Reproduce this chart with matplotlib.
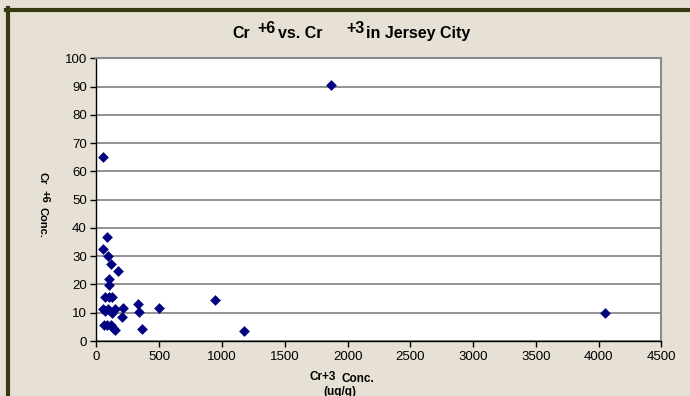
import matplotlib
matplotlib.use("Agg")
import matplotlib.pyplot as plt
from matplotlib.lines import Line2D

# Cr+3 (ug/g) vs Cr+6 concentration
cr3 = [1870, 4050, 1173, 944, 500, 364, 340, 332, 215, 202, 168,
       53, 53, 80, 93, 114, 101, 98, 69, 100, 124,
       48, 69, 93, 125, 146, 58, 80, 112, 128, 149]
cr6 = [90.5, 9.8, 3.4, 14.4, 11.6, 4.3, 10.4, 13.1, 11.8, 8.5, 24.8,
       65.0, 32.4, 36.9, 30.2, 27.2, 21.9, 19.7, 15.7, 15.7, 15.7,
       11.4, 10.6, 11.4, 9.8, 11.4, 5.7, 5.5, 5.5, 4.7, 3.8]
xticks = list(range(0, 5000, 500))
yticks = list(range(0, 110, 10))

W, H = 690, 396
bg = '#e7e1d5'
fam = 'Liberation Sans'
fig = plt.figure(figsize=(W / 100, H / 100), dpi=100, facecolor=bg)

def px(x, y):
    return x / W, 1 - y / H

# dark frame on the left and top
fig.add_artist(Line2D([7.5 / W, 7.5 / W], [0, 1 - 8 / H], color='#3a3a12', lw=3))
fig.add_artist(Line2D([6 / W, 1], [1 - 9.5 / H, 1 - 9.5 / H], color='#3a3a12', lw=3))

ax = fig.add_axes([96.5 / W, 1 - 341 / H, 565 / W, 282.6 / H])
ax.set_facecolor('white')
ax.scatter(cr3, cr6, marker='D', s=30, color='#000080', zorder=3, linewidths=0)
ax.set_xlim(0, 4500)
ax.set_ylim(0, 100)
ax.set_xticks(xticks)
ax.set_yticks(yticks)
ax.grid(axis='y', color='#7f7f7f', lw=1.2)
ax.set_axisbelow(True)
for s in ['top', 'right']:
    ax.spines[s].set_color('#8a8a8a')
    ax.spines[s].set_linewidth(1.5)
for s in ['left', 'bottom']:
    ax.spines[s].set_color('black')
    ax.spines[s].set_linewidth(1)
ax.tick_params(direction='out', length=4, width=1, labelsize=9.5, pad=3)
for lab in ax.get_xticklabels() + ax.get_yticklabels():
    lab.set_fontfamily(fam)

# title with raised charge signs
ts = 11.5
fig.text(*px(232, 38), 'Cr', fontsize=ts, weight='bold', family=fam)
fig.text(*px(257, 33), '+6', fontsize=ts, weight='bold', family=fam)
fig.text(*px(278, 38), 'vs. Cr', fontsize=ts, weight='bold', family=fam)
fig.text(*px(346, 33), '+3', fontsize=ts, weight='bold', family=fam)
fig.text(*px(366, 38), 'in Jersey City', fontsize=ts, weight='bold', family=fam)

# y label, rotated (reads top to bottom)
ys = 8
fig.text(*px(42, 172), 'Cr', rotation=-90, fontsize=ys, weight='bold',
         family=fam, ha='center', va='top')
fig.text(*px(44, 190), '+6', rotation=-90, fontsize=ys, weight='bold',
         family=fam, ha='center', va='top')
fig.text(*px(42, 207), 'Conc.', rotation=-90, fontsize=ys, weight='bold',
         family=fam, ha='center', va='top')

# x label
fig.text(*px(310, 380), 'Cr+3', fontsize=8.5, weight='bold', family=fam)
fig.text(*px(342, 382.5), 'Conc.', fontsize=8.5, weight='bold', family=fam)
fig.text(*px(340, 394.5), '(ug/g)', fontsize=8.5, weight='bold', family=fam, ha='center')

fig.savefig('out.png', dpi=100, facecolor=bg)
